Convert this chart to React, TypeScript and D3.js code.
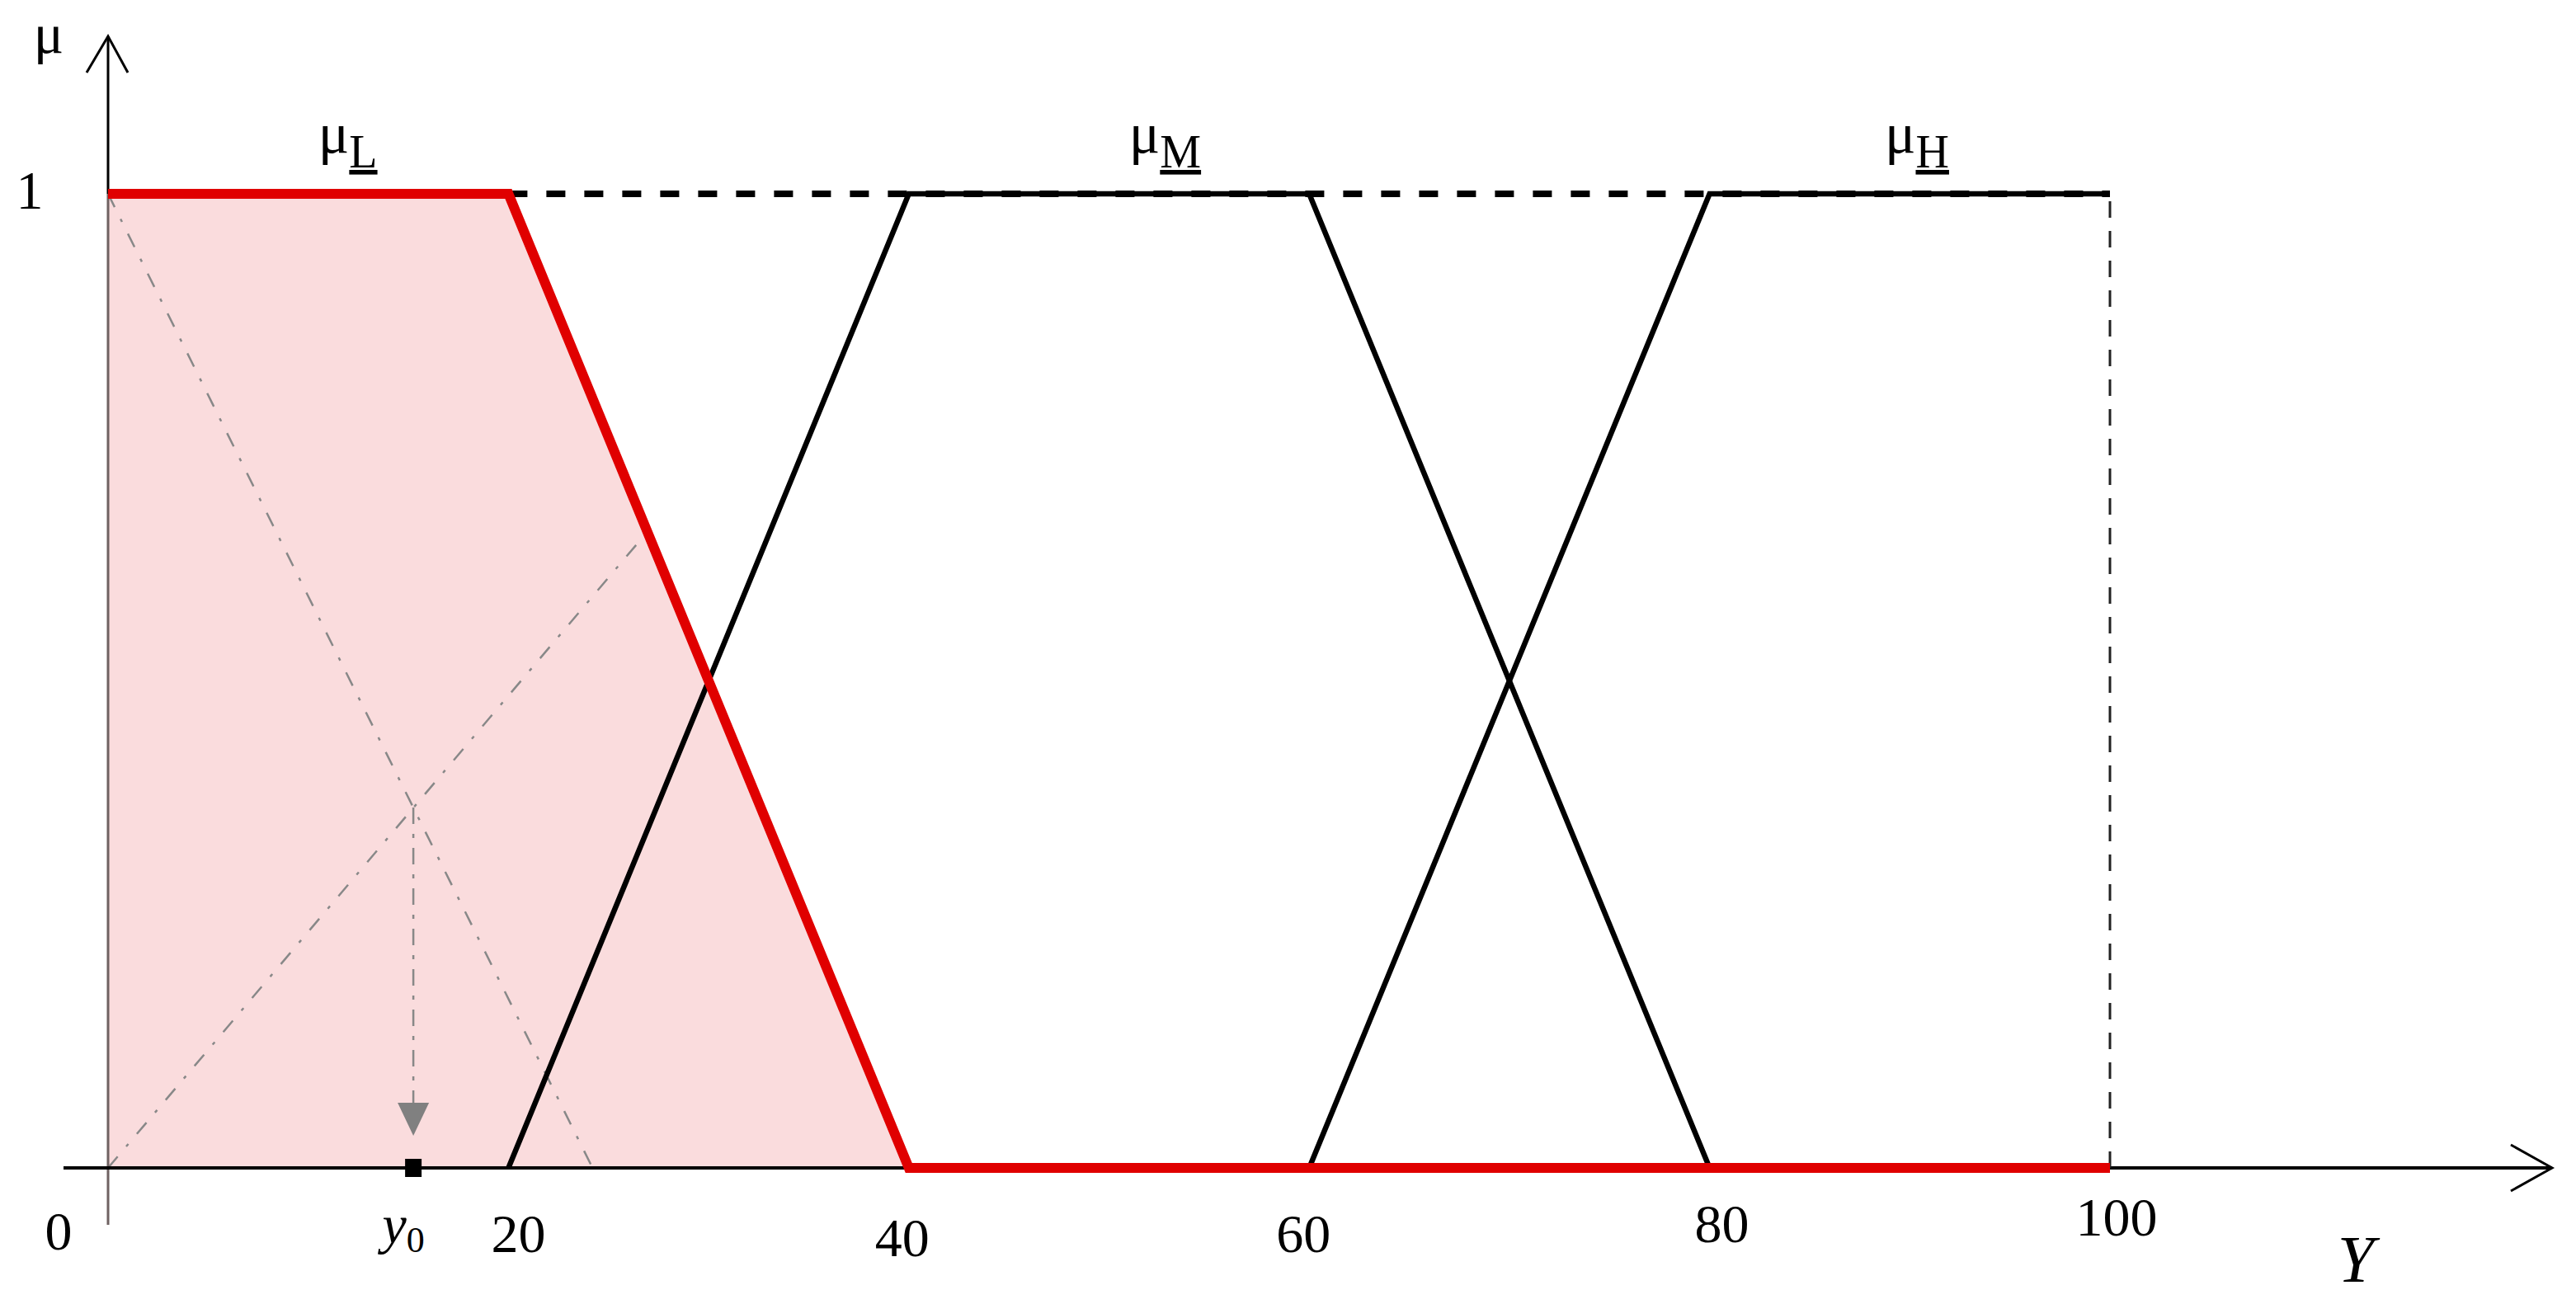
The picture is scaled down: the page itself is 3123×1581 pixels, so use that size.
import React from 'react';
import * as d3 from 'd3';

const W = 3123;
const H = 1581;

// ---- data ----
const xDomain: [number, number] = [0, 100];
const muDomain: [number, number] = [0, 1];
const xTicks = [0, 20, 40, 60, 80, 100];
const xTickLabels = ['0', '20', '40', '60', '80', '100'];
const muLow: [number, number][] = [[0, 1], [20, 1], [40, 0], [100, 0]];
const muLowArea: [number, number][] = [[0, 1], [20, 1], [40, 0]];
const muMedium: [number, number][] = [[20, 0], [40, 1], [60, 1], [80, 0]];
const muHigh: [number, number][] = [[60, 0], [80, 1], [100, 1]];
const topDashed: [number, number][] = [[20, 1], [100, 1]];
const rightDashed: [number, number][] = [[100, 0], [100, 1]];
const guideDesc: [number, number][] = [[0, 1], [24.2, 0]];
const guideAsc: [number, number][] = [[0, 0], [26.4, 0.64]];
const centroid: [number, number] = [15.25, 0.37];
const y0Value = 15.25;
const arrowTipMu = 0.033;
const setNames = ['L', 'M', 'H'];
const setLabelX = [10.5, 51, 88.75];

// ---- layout ----
const tickBaselineOffset = [99, 102, 107, 102, 90, 82];
const tickDx = [-60, 12, -8, -7, 15, 8];

const FONT = '"Liberation Serif", "Times New Roman", serif';

export default function App() {
  const x = d3.scaleLinear().domain(xDomain).range([131, 2558]);
  const y = d3.scaleLinear().domain(muDomain).range([1416, 235]);
  const line = d3.line<[number, number]>().x(d => x(d[0])).y(d => y(d[1]));
  const area = d3.area<[number, number]>().x(d => x(d[0])).y0(y(0)).y1(d => y(d[1]));

  const x0 = x(0);
  const yBase = y(0);
  const cx = x(y0Value);
  const tipY = y(arrowTipMu);

  return (
    <svg width={W} height={H} style={{ position: 'absolute', left: 0, top: 0, display: 'block', background: '#fff' }}>
      {/* fill under mu_L */}
      <path d={area(muLowArea) || ''} fill="#fadcdd" />

      {/* guide dash-dot lines */}
      <path d={line(guideDesc) || ''} fill="none" stroke="#888" strokeWidth={2.5} strokeDasharray="18 16 4 16" />
      <path d={line(guideAsc) || ''} fill="none" stroke="#888" strokeWidth={2.5} strokeDasharray="18 16 4 16" />
      <line x1={x(centroid[0])} y1={y(centroid[1])} x2={cx} y2={tipY - 36} stroke="#888" strokeWidth={2.5} strokeDasharray="20 12 5 12" />
      <path d={`M${cx - 19},${tipY - 40} L${cx + 19},${tipY - 40} L${cx},${tipY} Z`} fill="#808080" />

      {/* axes */}
      <line x1={x0} y1={yBase + 69} x2={x0} y2={y(1)} stroke="#6f6262" strokeWidth={3} />
      <line x1={x0} y1={y(1)} x2={x0} y2={44} stroke="#000" strokeWidth={3} />
      <polyline points={`${x0 - 26},88 ${x0},44 ${x0 + 24},88`} fill="none" stroke="#000" strokeWidth={3} />
      <line x1={77} y1={yBase} x2={3094} y2={yBase} stroke="#000" strokeWidth={4} />
      <polyline points={`3044,1388 3094,${yBase} 3044,1444`} fill="none" stroke="#000" strokeWidth={3} />

      {/* medium & high */}
      <path d={line(muMedium) || ''} fill="none" stroke="#000" strokeWidth={6.5} />
      <path d={line(muHigh) || ''} fill="none" stroke="#000" strokeWidth={6.5} />
      <path d={line(topDashed) || ''} fill="none" stroke="#000" strokeWidth={8} strokeDasharray="23 23" />
      <path d={line(rightDashed) || ''} fill="none" stroke="#222" strokeWidth={3} strokeDasharray="20 16" />

      {/* low */}
      <path d={line(muLow) || ''} fill="none" stroke="#e00000" strokeWidth={12} strokeLinejoin="miter" />

      {/* y0 marker */}
      <rect x={cx - 10} y={yBase - 11} width={20} height={22} fill="#000" />

      {/* tick labels */}
      {xTicks.map((t, i) => (
        <text key={t} x={x(t) + tickDx[i]} y={yBase + tickBaselineOffset[i]} textAnchor="middle"
          fontFamily={FONT} fontSize={66} fill="#000">{xTickLabels[i]}</text>
      ))}
      <text x={cx - 12} y={1507} textAnchor="middle" fontFamily={FONT} fontSize={66} fill="#000">
        <tspan fontStyle="italic">y</tspan>
        <tspan fontSize={44} dy={11}>0</tspan>
      </text>
      <text x={2856} y={1554} textAnchor="middle" fontFamily={FONT} fontSize={80} fontStyle="italic" fill="#000">Y</text>

      {/* mu axis labels */}
      <text x={36} y={253} textAnchor="middle" fontFamily={FONT} fontSize={66} fill="#000">1</text>
      <text x={59} y={64} textAnchor="middle" fontFamily={FONT} fontSize={68} fill="#000">μ</text>

      {/* set labels */}
      {setNames.map((n, i) => (
        <text key={n} x={x(setLabelX[i])} y={y(1) - 50} fontFamily={FONT} fontSize={70} fill="#000">
          μ<tspan fontSize={56} dy={18} textDecoration="underline">{n}</tspan>
        </text>
      ))}
    </svg>
  );
}
